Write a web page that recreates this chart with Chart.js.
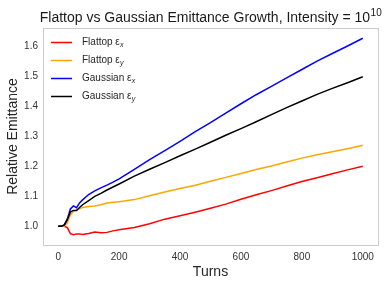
<!DOCTYPE html>
<html><head><meta charset="utf-8">
<script src="https://cdn.jsdelivr.net/npm/chart.js@4.4.1/dist/chart.umd.min.js"></script>
<style>html,body{margin:0;padding:0;background:#fff}#wrap{width:390px;height:283px}</style>
</head><body><div id="wrap"><canvas id="c" width="390" height="283"></canvas></div>
<script>
const turns = [0,10,20,30,40,50,60,70,80,100,120,140,160,180,200,250,300,350,400,450,500,550,600,650,700,750,800,850,900,950,1000];
const flattopX = [1.0,1.0,1.0,0.996,0.976,0.972,0.975,0.975,0.973,0.976,0.981,0.979,0.980,0.985,0.989,0.996,1.009,1.024,1.035,1.047,1.060,1.074,1.090,1.105,1.119,1.134,1.149,1.162,1.175,1.188,1.200];
const flattopY = [1.0,1.0,1.0,1.012,1.038,1.051,1.054,1.058,1.063,1.066,1.068,1.072,1.078,1.080,1.082,1.089,1.102,1.114,1.126,1.137,1.150,1.163,1.176,1.189,1.201,1.214,1.227,1.238,1.248,1.258,1.270];
const gaussX = [1.0,1.0,1.005,1.025,1.058,1.068,1.062,1.078,1.088,1.106,1.118,1.128,1.137,1.147,1.158,1.190,1.222,1.252,1.283,1.315,1.345,1.377,1.408,1.438,1.466,1.494,1.522,1.550,1.575,1.600,1.626];
const gaussY = [1.0,1.0,1.005,1.022,1.048,1.053,1.053,1.063,1.072,1.086,1.100,1.110,1.121,1.131,1.141,1.167,1.190,1.212,1.235,1.257,1.280,1.303,1.325,1.348,1.372,1.395,1.417,1.439,1.459,1.478,1.498];
const seriesLabels = [["Flattop ε","x"],["Flattop ε","y"],["Gaussian ε","x"],["Gaussian ε","y"]];
const seriesColors = ["#ff0000","#ffa500","#0000ff","#000000"];
const xTicks = [0,200,400,600,800,1000];
const yTicks = [1.0,1.1,1.2,1.3,1.4,1.5,1.6];
const titleMain = "Flattop vs Gaussian Emittance Growth, Intensity = 10";
const titleSup = "10";
const xTitle = "Turns";
const yTitle = "Relative Emittance";

const FONT = '"Liberation Sans", Arial, sans-serif';
const allSeries = [flattopX, flattopY, gaussX, gaussY];
const datasets = allSeries.map((arr,i)=>({
  label: seriesLabels[i].join(''),
  data: turns.map((t,j)=>({x:t,y:arr[j]})),
  borderColor: seriesColors[i],
  backgroundColor: seriesColors[i],
  borderWidth: 1.5,
  pointRadius: 0,
  tension: 0,
  fill: false,
  order: 4-i
}));

const deco = {
  id:'deco',
  afterDraw(chart){
    const ctx = chart.ctx, a = chart.chartArea;
    ctx.save();
    ctx.strokeStyle = '#cccccc'; ctx.lineWidth = 1;
    ctx.strokeRect(Math.round(a.left)+0.5, Math.round(a.top)+0.5, Math.round(a.right-a.left), Math.round(a.bottom-a.top));
    ctx.fillStyle = '#1a1a1a';
    ctx.textBaseline = 'alphabetic';
    ctx.font = '14px ' + FONT;
    const w1 = ctx.measureText(titleMain).width;
    ctx.font = '10px ' + FONT;
    const w2 = ctx.measureText(titleSup).width;
    const cx = (a.left + a.right)/2;
    let x0 = cx - (w1+w2)/2;
    ctx.font = '14px ' + FONT;
    ctx.textAlign = 'left';
    ctx.fillText(titleMain, x0, 22);
    ctx.font = '10px ' + FONT;
    ctx.fillText(titleSup, x0 + w1 + 0.5, 16);
    ctx.font = '14px ' + FONT;
    ctx.textAlign = 'center';
    ctx.fillStyle = '#262626';
    ctx.fillText(xTitle, cx, 276);
    ctx.save();
    ctx.translate(17, (a.top+a.bottom)/2);
    ctx.rotate(-Math.PI/2);
    ctx.fillText(yTitle, 0, 0);
    ctx.restore();
    const lx0 = 51, lx1 = 72, tx = 82;
    const ys = [42.5, 60.5, 78.5, 96.5];
    seriesLabels.forEach((lab,i)=>{
      const y = ys[i];
      ctx.strokeStyle = seriesColors[i]; ctx.lineWidth = 1.5;
      ctx.beginPath(); ctx.moveTo(lx0,y); ctx.lineTo(lx1,y); ctx.stroke();
      ctx.fillStyle = '#262626';
      ctx.textAlign = 'left'; ctx.textBaseline = 'middle';
      ctx.font = '10px ' + FONT;
      ctx.fillText(lab[0], tx, y);
      const w = ctx.measureText(lab[0]).width;
      ctx.font = 'italic 7px ' + FONT;
      ctx.fillText(lab[1], tx + w + 0.3, y + 2.5);
    });
    ctx.restore();
  }
};

new Chart(document.getElementById('c'), {
  type: 'line',
  data: { datasets },
  plugins: [deco],
  options: {
    responsive: false,
    animation: false,
    layout: { padding: { top: 28, right: 12, left: 0, bottom: 0 } },
    plugins: { legend: { display: false }, title: { display: false }, tooltip: { enabled: false } },
    scales: {
      x: {
        type: 'linear', min: -50, max: 1050,
        grid: { display: false, drawTicks: false },
        border: { display: false },
        afterBuildTicks: s => { s.ticks = xTicks.map(v=>({value:v})); },
        afterFit: s => { s.height = 38; },
        ticks: { padding: 6, color: '#333', font: { family: FONT, size: 10 }, maxRotation: 0, callback: v => String(v) }
      },
      y: {
        type: 'linear', min: 0.938, max: 1.660,
        grid: { display: false, drawTicks: false },
        border: { display: false },
        afterBuildTicks: s => { s.ticks = yTicks.map(v=>({value:v})); },
        afterFit: s => { s.width = 43; },
        ticks: { padding: 5, color: '#333', font: { family: FONT, size: 10 }, callback: v => Number(v).toFixed(1) }
      }
    }
  }
});
</script></body></html>
